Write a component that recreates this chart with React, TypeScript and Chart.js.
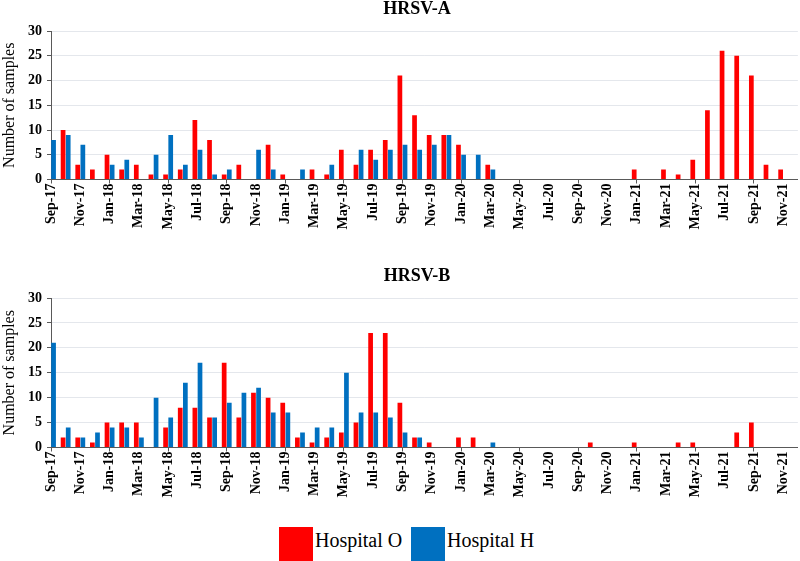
import React, { useEffect, useRef } from 'react';
import { Chart, registerables } from 'chart.js';

Chart.register(...registerables);

const months: string[] = [
  'Sep-17', 'Oct-17', 'Nov-17', 'Dec-17',
  'Jan-18', 'Feb-18', 'Mar-18', 'Apr-18', 'May-18', 'Jun-18', 'Jul-18', 'Aug-18', 'Sep-18', 'Oct-18', 'Nov-18', 'Dec-18',
  'Jan-19', 'Feb-19', 'Mar-19', 'Apr-19', 'May-19', 'Jun-19', 'Jul-19', 'Aug-19', 'Sep-19', 'Oct-19', 'Nov-19', 'Dec-19',
  'Jan-20', 'Feb-20', 'Mar-20', 'Apr-20', 'May-20', 'Jun-20', 'Jul-20', 'Aug-20', 'Sep-20', 'Oct-20', 'Nov-20', 'Dec-20',
  'Jan-21', 'Feb-21', 'Mar-21', 'Apr-21', 'May-21', 'Jun-21', 'Jul-21', 'Aug-21', 'Sep-21', 'Oct-21', 'Nov-21', 'Dec-21',
];

// HRSV-A
const hrsvA_hospitalO: number[] = [
  0, 10, 3, 2,
  5, 2, 3, 1, 1, 2, 12, 8, 1, 3, 0, 7,
  1, 0, 2, 1, 6, 3, 6, 8, 21, 13, 9, 9,
  7, 0, 3, 0, 0, 0, 0, 0, 0, 0, 0, 0,
  2, 0, 2, 1, 4, 14, 26, 25, 21, 3, 2, 0,
];
const hrsvA_hospitalH: number[] = [
  8, 9, 7, 0,
  3, 4, 0, 5, 9, 3, 6, 1, 2, 0, 6, 2,
  0, 2, 0, 3, 0, 6, 4, 6, 7, 6, 7, 9,
  5, 5, 2, 0, 0, 0, 0, 0, 0, 0, 0, 0,
  0, 0, 0, 0, 0, 0, 0, 0, 0, 0, 0, 0,
];

// HRSV-B
const hrsvB_hospitalO: number[] = [
  0, 2, 2, 1,
  5, 5, 5, 0, 4, 8, 8, 6, 17, 6, 11, 10,
  9, 2, 1, 2, 3, 5, 23, 23, 9, 2, 1, 0,
  2, 2, 0, 0, 0, 0, 0, 0, 0, 1, 0, 0,
  1, 0, 0, 1, 1, 0, 0, 3, 5, 0, 0, 0,
];
const hrsvB_hospitalH: number[] = [
  21, 4, 2, 3,
  4, 4, 2, 10, 6, 13, 17, 6, 9, 11, 12, 7,
  7, 3, 4, 4, 15, 7, 7, 6, 3, 2, 0, 0,
  0, 0, 1, 0, 0, 0, 0, 0, 0, 0, 0, 0,
  0, 0, 0, 0, 0, 0, 0, 0, 0, 0, 0, 0,
];

const yTicks: number[] = [0, 5, 10, 15, 20, 25, 30];
const seriesNames: string[] = ['Hospital O', 'Hospital H'];
const panelTitles: string[] = ['HRSV-A', 'HRSV-B'];
const yAxisTitle = 'Number of samples';

const RED = '#FF0000';
const BLUE = '#0070C0';
const AXIS = '#595959';
const GRID = '#e4e7ec';
const SERIF = '"Liberation Serif", "Times New Roman", serif';

function titlePlugin(text: string, x: number, y: number) {
  return {
    id: 'panelTitle',
    afterDraw(chart: any) {
      const ctx = chart.ctx;
      ctx.save();
      ctx.font = `bold 18px ${SERIF}`;
      ctx.fillStyle = '#000';
      ctx.textAlign = 'center';
      ctx.textBaseline = 'alphabetic';
      ctx.fillText(text, x, y);
      ctx.restore();
    },
  };
}

function makeConfig(red: number[], blue: number[], title: string, padTop: number, titleY: number, xHeight: number): any {
  return {
    type: 'bar',
    data: {
      labels: months,
      datasets: [
        { label: seriesNames[0], data: red, backgroundColor: RED, borderWidth: 0, clip: 0, categoryPercentage: 0.7, barPercentage: 0.92 },
        { label: seriesNames[1], data: blue, backgroundColor: BLUE, borderWidth: 0, clip: 0, categoryPercentage: 0.7, barPercentage: 0.92 },
      ],
    },
    options: {
      animation: false,
      responsive: false,
      maintainAspectRatio: false,
      layout: { padding: { top: padTop, left: 0, right: 0, bottom: 0 } },
      plugins: {
        legend: { display: false },
        title: { display: false },
        tooltip: { enabled: false },
      },
      scales: {
        x: {
          offset: false,
          grid: {
            offset: false,
            drawOnChartArea: false,
            drawTicks: true,
            tickLength: 4,
            color: AXIS,
            tickColor: (c: any) => (c.index % 2 === 0 ? AXIS : 'rgba(0,0,0,0)'),
          },
          border: { display: true, color: AXIS, width: 1 },
          ticks: {
            autoSkip: false,
            maxRotation: 90,
            minRotation: 90,
            padding: 0,
            color: '#000',
            font: { family: SERIF, size: 14, weight: 'bold' },
            callback: (_v: any, i: number) => (i % 2 === 0 ? months[i] : null),
          },
          afterFit: (s: any) => { s.height = xHeight; },
        },
        y: {
          min: 0,
          max: 30,
          afterBuildTicks: (s: any) => { s.ticks = yTicks.map((v) => ({ value: v })); },
          grid: {
            color: (c: any) => (c.tick && c.tick.value === 0 ? AXIS : GRID),
            tickColor: AXIS,
            tickLength: 4,
          },
          border: { display: true, color: AXIS, width: 1 },
          ticks: {
            padding: 5,
            color: '#000',
            font: { family: SERIF, size: 14, weight: 'bold' },
          },
          title: {
            display: true,
            text: yAxisTitle,
            color: '#000',
            font: { family: SERIF, size: 16, weight: 'normal' },
            padding: 0,
          },
          afterFit: (s: any) => { s.width = 51; },
        },
      },
    },
    plugins: [titlePlugin(title, 417, titleY)],
  };
}

export default function App() {
  const topRef = useRef<HTMLCanvasElement>(null);
  const bottomRef = useRef<HTMLCanvasElement>(null);

  useEffect(() => {
    document.body.style.margin = '0';
    const c1 = new Chart(topRef.current as HTMLCanvasElement, makeConfig(hrsvA_hospitalO, hrsvA_hospitalH, panelTitles[0], 31, 13.5, 70.5));
    const c2 = new Chart(bottomRef.current as HTMLCanvasElement, makeConfig(hrsvB_hospitalO, hrsvB_hospitalH, panelTitles[1], 48, 31, 72.5));
    return () => {
      c1.destroy();
      c2.destroy();
    };
  }, []);

  const legendText: React.CSSProperties = {
    position: 'absolute',
    top: 530,
    fontFamily: SERIF,
    fontSize: 20,
    lineHeight: '20px',
    whiteSpace: 'nowrap',
    color: '#000',
  };

  return (
    <div style={{ position: 'relative', width: 800, height: 561, overflow: 'hidden', background: '#fff' }}>
      <canvas ref={topRef} width={800} height={250} style={{ position: 'absolute', left: 0, top: 0, display: 'block' }} />
      <canvas ref={bottomRef} width={800} height={270} style={{ position: 'absolute', left: 0, top: 250, display: 'block' }} />
      <div style={{ position: 'absolute', left: 279, top: 527, width: 34, height: 34, background: RED }} />
      <span style={{ ...legendText, left: 315 }}>{seriesNames[0]}</span>
      <div style={{ position: 'absolute', left: 411, top: 527, width: 34, height: 34, background: BLUE }} />
      <span style={{ ...legendText, left: 447 }}>{seriesNames[1]}</span>
    </div>
  );
}
